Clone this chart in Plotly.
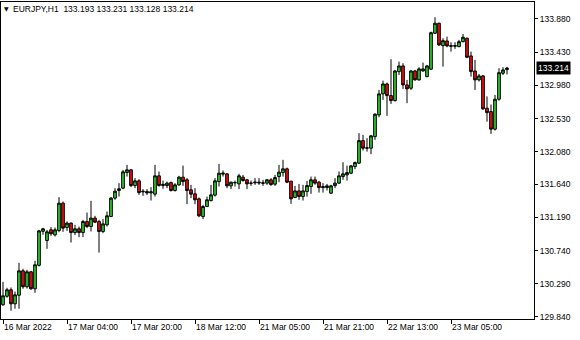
import pandas as pd
import plotly.graph_objects as go

symbol = "EURJPY,H1"

opens = [130.005, 130.120, 130.208, 130.018, 130.134, 130.465, 130.249, 130.452, 130.222, 130.540,
         131.001, 130.876, 131.021, 130.953, 131.012, 131.383, 131.052, 131.112, 130.984, 131.035,
         130.984, 131.134, 131.066, 131.180, 131.134, 130.998, 131.089, 131.201, 131.451, 131.554,
         131.586, 131.797, 131.834, 131.621, 131.685, 131.536, 131.540, 131.522, 131.505, 131.753,
         131.621, 131.621, 131.662, 131.554, 131.631, 131.735, 131.699, 131.563, 131.509, 131.441,
         131.201, 131.337, 131.418, 131.491, 131.675, 131.776, 131.780, 131.617, 131.658, 131.644,
         131.735, 131.699, 131.651, 131.658, 131.667, 131.651, 131.654, 131.699, 131.640, 131.743,
         131.797, 131.848, 131.681, 131.459, 131.549, 131.472, 131.540, 131.608, 131.699, 131.667,
         131.608, 131.594, 131.518, 131.621, 131.654, 131.743, 131.766, 131.789, 131.879, 131.925,
         132.231, 132.128, 132.128, 132.285, 132.579, 132.864, 132.999, 132.841, 132.773, 133.166,
         133.243, 132.986, 132.941, 133.175, 133.054, 133.175, 133.098, 133.199, 133.686, 133.822,
         133.518, 133.582, 133.518, 133.510, 133.505, 133.572, 133.619, 133.379, 133.175, 133.054,
         133.108, 132.670, 132.624, 132.386, 132.792, 133.144, 133.193]
highs = [130.316, 130.235, 130.239, 130.185, 130.574, 130.493, 130.479, 130.465, 130.601, 131.021,
         131.048, 131.021, 131.058, 131.052, 131.464, 131.405, 131.134, 131.120, 131.089, 131.066,
         131.157, 131.255, 131.414, 131.211, 131.157, 131.166, 131.269, 131.464, 131.586, 131.654,
         131.834, 131.902, 131.844, 131.722, 131.708, 131.573, 131.573, 131.600, 131.902, 131.811,
         131.689, 131.675, 131.675, 131.654, 131.753, 131.892, 131.722, 131.631, 131.586, 131.459,
         131.360, 131.472, 131.631, 131.722, 131.915, 131.825, 131.789, 131.675, 131.689, 131.780,
         131.766, 131.712, 131.689, 131.722, 131.722, 131.699, 131.712, 131.722, 131.766, 131.902,
         131.970, 131.865, 131.681, 131.617, 131.644, 131.631, 131.685, 131.743, 131.743, 131.685,
         131.654, 131.644, 131.631, 131.722, 131.811, 131.938, 131.892, 131.902, 131.947, 132.331,
         132.308, 132.264, 132.308, 132.602, 132.918, 133.044, 133.017, 133.334, 133.189, 133.302,
         133.280, 133.054, 133.189, 133.189, 133.226, 133.288, 133.257, 133.708, 133.903, 133.830,
         133.619, 133.640, 133.564, 133.564, 133.596, 133.677, 133.627, 133.437, 133.325, 133.135,
         133.121, 132.830, 132.720, 132.850, 133.212, 133.226, 133.231]
lows = [129.991, 130.100, 129.923, 129.951, 129.951, 130.222, 130.226, 130.208, 130.167, 130.524,
        130.953, 130.764, 130.940, 130.930, 130.990, 130.994, 131.007, 130.849, 130.949, 130.922,
        130.922, 131.044, 130.998, 131.112, 130.713, 130.976, 131.066, 131.193, 131.428, 131.472,
        131.573, 131.743, 131.600, 131.586, 131.495, 131.482, 131.495, 131.418, 131.472, 131.608,
        131.577, 131.586, 131.540, 131.540, 131.617, 131.617, 131.369, 131.451, 131.369, 131.193,
        131.166, 131.329, 131.405, 131.472, 131.608, 131.743, 131.586, 131.573, 131.608, 131.573,
        131.675, 131.573, 131.617, 131.631, 131.631, 131.617, 131.631, 131.617, 131.617, 131.667,
        131.743, 131.654, 131.373, 131.451, 131.428, 131.418, 131.472, 131.509, 131.631, 131.526,
        131.526, 131.554, 131.509, 131.586, 131.644, 131.699, 131.689, 131.776, 131.844, 131.915,
        132.096, 132.082, 132.047, 132.241, 132.548, 132.783, 132.566, 132.728, 132.760, 133.121,
        132.932, 132.738, 132.918, 133.044, 133.044, 133.166, 133.090, 133.189, 133.677, 133.514,
        133.234, 133.497, 133.437, 133.474, 133.497, 133.564, 133.348, 133.098, 132.918, 133.031,
        132.647, 132.488, 132.322, 132.367, 132.773, 133.121, 133.128]
closes = [130.127, 130.208, 130.018, 130.140, 130.465, 130.249, 130.452, 130.222, 130.547, 131.007,
          131.035, 130.994, 130.967, 131.021, 131.383, 131.044, 131.112, 130.984, 131.035, 130.984,
          131.134, 131.066, 131.180, 131.125, 130.998, 131.102, 131.211, 131.451, 131.545, 131.577,
          131.807, 131.834, 131.621, 131.685, 131.526, 131.543, 131.522, 131.536, 131.753, 131.621,
          131.638, 131.654, 131.554, 131.631, 131.735, 131.675, 131.554, 131.505, 131.428, 131.211,
          131.337, 131.428, 131.495, 131.685, 131.789, 131.789, 131.617, 131.667, 131.662, 131.753,
          131.689, 131.644, 131.654, 131.667, 131.658, 131.658, 131.699, 131.635, 131.730, 131.803,
          131.848, 131.667, 131.441, 131.549, 131.472, 131.549, 131.621, 131.699, 131.654, 131.594,
          131.594, 131.617, 131.617, 131.654, 131.753, 131.780, 131.797, 131.888, 131.933, 132.231,
          132.128, 132.132, 132.295, 132.589, 132.864, 132.999, 132.841, 132.773, 133.175, 133.243,
          132.986, 132.932, 133.175, 133.054, 133.203, 133.203, 133.243, 133.694, 133.822, 133.528,
          133.586, 133.514, 133.510, 133.518, 133.572, 133.632, 133.361, 133.166, 133.054, 133.108,
          132.661, 132.610, 132.386, 132.792, 133.152, 133.189, 133.214]

price_ticks = [129.840, 130.290, 130.740, 131.190, 131.640, 132.080, 132.530, 132.980, 133.430, 133.880]
time_ticks = ["2022-03-16 12:00", "2022-03-17 04:00", "2022-03-17 20:00", "2022-03-18 12:00",
              "2022-03-21 05:00", "2022-03-21 21:00", "2022-03-22 13:00", "2022-03-23 05:00"]
time_tick_labels = ["16 Mar 2022", "17 Mar 04:00", "17 Mar 20:00", "18 Mar 12:00",
                    "21 Mar 05:00", "21 Mar 21:00", "22 Mar 13:00", "23 Mar 05:00"]

# hourly bar times (weekend skipped, Friday closes before 23:00)
t = pd.date_range("2022-03-16 12:00", "2022-03-23 19:00", freq="h")
t = t[(t.dayofweek < 5) & ~((t.dayofweek == 4) & (t.hour == 23))]
times = [d.strftime("%Y-%m-%d %H:%M") for d in t]

FONT = "Liberation Sans, Arial, sans-serif"
FS = 8.5

fig = go.Figure(go.Candlestick(
    x=times, open=opens, high=highs, low=lows, close=closes,
    increasing=dict(line=dict(color="black", width=1), fillcolor="#32CD32"),
    decreasing=dict(line=dict(color="black", width=1), fillcolor="#E81010"),
    whiskerwidth=0, hoverinfo="skip", showlegend=False,
))

fig.update_layout(
    width=580, height=340,
    margin=dict(l=1, r=46, t=2, b=21),
    paper_bgcolor="white", plot_bgcolor="white",
    font=dict(family=FONT, size=FS, color="black"),
    showlegend=False,
    boxgap=0.05,
    xaxis=dict(
        type="category", range=[-0.5, 132.75],
        tickmode="array", tickvals=time_ticks, ticktext=time_tick_labels,
        ticks="outside", ticklen=4, tickcolor="black", tickwidth=1,
        ticklabelposition="outside right",
        showline=True, linecolor="black", linewidth=1, mirror=True,
        showgrid=False, zeroline=False,
        rangeslider=dict(visible=False),
        tickfont=dict(family=FONT, size=FS, color="black"),
    ),
    yaxis=dict(
        side="right", range=[129.812, 134.110],
        tickmode="array", tickvals=price_ticks, tickformat=".3f",
        ticks="outside", ticklen=3, tickcolor="black", tickwidth=1,
        showline=True, linecolor="black", linewidth=1, mirror=True,
        showgrid=False, zeroline=False,
        tickfont=dict(family=FONT, size=FS, color="black"),
    ),
)

last = len(closes) - 1
title_text = (f"{symbol}\u00a0\u00a0{opens[last]:.3f} {highs[last]:.3f} "
              f"{lows[last]:.3f} {closes[last]:.3f}")
fig.add_annotation(text=title_text, xref="paper", yref="paper", x=0, y=1,
                   xanchor="left", yanchor="middle", xshift=10, yshift=-7,
                   showarrow=False, font=dict(family=FONT, size=FS, color="black"))
fig.add_annotation(text="▼", xref="paper", yref="paper", x=0, y=1,
                   xanchor="left", yanchor="middle", xshift=1, yshift=-6,
                   showarrow=False, font=dict(family="DejaVu Sans", size=6, color="black"))
fig.add_annotation(text=f"{closes[last]:.3f}", xref="paper", yref="y", x=1, y=closes[last],
                   xanchor="left", yanchor="middle", xshift=2,
                   showarrow=False, bgcolor="black", borderpad=1,
                   font=dict(family=FONT, size=FS, color="white"))

fig.write_html("out.html")
